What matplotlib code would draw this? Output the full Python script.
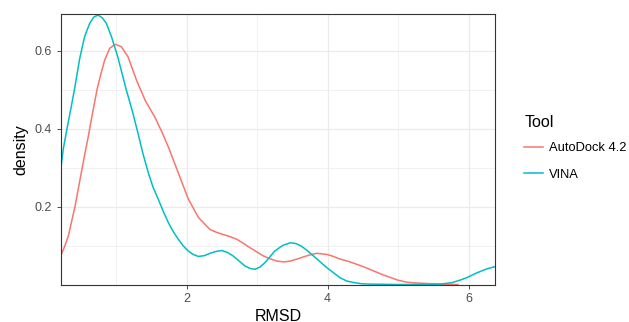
import matplotlib.pyplot as plt

plt.rcParams['font.family'] = ['Liberation Sans', 'DejaVu Sans']

# values (RMSD, density)
autodock_x = [0.21, 0.26, 0.318, 0.413, 0.484, 0.555, 0.60, 0.65, 0.726, 0.778, 0.835,
              0.906, 0.986, 1.07, 1.166, 1.284, 1.41, 1.55, 1.645, 1.74, 1.88, 2.02,
              2.165, 2.26, 2.33, 2.42, 2.52, 2.61, 2.71, 2.80, 2.90, 3.00, 3.09, 3.18,
              3.28, 3.38, 3.47, 3.56, 3.66, 3.75, 3.85, 3.99, 4.08, 4.18, 4.30, 4.41,
              4.53, 4.65, 4.77, 4.89, 5.00, 5.12, 5.24, 5.36, 5.48, 5.60, 5.85]
autodock_y = [0.073, 0.095, 0.124, 0.200, 0.269, 0.337, 0.378, 0.428, 0.500, 0.538, 0.576,
              0.606, 0.616, 0.610, 0.584, 0.525, 0.472, 0.428, 0.392, 0.352, 0.286, 0.220,
              0.172, 0.154, 0.141, 0.134, 0.128, 0.123, 0.116, 0.106, 0.094, 0.083, 0.073,
              0.066, 0.060, 0.058, 0.060, 0.065, 0.071, 0.076, 0.080, 0.077, 0.072, 0.065,
              0.059, 0.052, 0.044, 0.035, 0.026, 0.018, 0.011, 0.006, 0.004, 0.003, 0.002,
              0.001, 0.0]

vina_x = [0.21, 0.247, 0.30, 0.366, 0.41, 0.48, 0.55, 0.622, 0.68, 0.74, 0.80, 0.858,
          0.93, 1.02, 1.14, 1.23, 1.31, 1.38, 1.455, 1.52, 1.597, 1.67, 1.74, 1.81,
          1.88, 1.95, 2.02, 2.09, 2.165, 2.25, 2.33, 2.42, 2.50, 2.58, 2.66, 2.75,
          2.83, 2.90, 2.97, 3.04, 3.11, 3.18, 3.25, 3.36, 3.47, 3.55, 3.63, 3.71, 3.80,
          3.90, 3.99, 4.09, 4.18, 4.27, 4.37, 4.48, 4.60, 5.00, 5.40, 5.60, 5.69, 5.77,
          5.84, 5.91, 5.98, 6.05, 6.12, 6.19, 6.26, 6.32, 6.38]
vina_y = [0.295, 0.348, 0.400, 0.462, 0.505, 0.580, 0.636, 0.670, 0.686, 0.691, 0.684,
          0.670, 0.636, 0.584, 0.500, 0.443, 0.386, 0.334, 0.286, 0.250, 0.218, 0.186,
          0.158, 0.135, 0.116, 0.099, 0.086, 0.077, 0.072, 0.074, 0.080, 0.085, 0.087,
          0.082, 0.073, 0.059, 0.047, 0.041, 0.039, 0.045, 0.056, 0.071, 0.086, 0.100,
          0.107, 0.105, 0.098, 0.087, 0.073, 0.057, 0.043, 0.029, 0.017, 0.009, 0.005,
          0.002, 0.001, 0.0, 0.0, 0.001, 0.003, 0.005, 0.009, 0.013, 0.018, 0.024, 0.030,
          0.035, 0.040, 0.043, 0.046]

tools = ['AutoDock 4.2', 'VINA']
colors = ['#F8766D', '#00BFC4']

fig = plt.figure(figsize=(6.29, 3.22), dpi=100)
ax = fig.add_axes([60.7 / 629, (322 - 284.5) / 322, (495.3 - 60.7) / 629, (284.5 - 14.3) / 322])

ax.plot(autodock_x, autodock_y, color=colors[0], lw=1.1, label=tools[0])
ax.plot(vina_x, vina_y, color=colors[1], lw=1.1, label=tools[1])

ax.set_xlim(0.21, 6.38)
ax.set_ylim(0.0, 0.693)
ax.set_xticks([2, 4, 6])
ax.set_yticks([0.2, 0.4, 0.6])
ax.set_xticks([1, 3, 5], minor=True)
ax.set_yticks([0.1, 0.3, 0.5], minor=True)
ax.grid(True, which='major', color='#EBEBEB', lw=0.9)
ax.grid(True, which='minor', color='#EBEBEB', lw=0.5)
ax.set_axisbelow(True)
ax.tick_params(which='major', length=3, width=0.6, color='#333333',
               labelcolor='#4D4D4D', labelsize=9, pad=3)
ax.tick_params(which='minor', length=0)
for s in ax.spines.values():
    s.set_color('#333333')
    s.set_linewidth(0.8)

ax.set_xlabel('RMSD', fontsize=11.5, labelpad=3)
ax.set_ylabel('density', fontsize=11.5, labelpad=5)

leg = ax.legend(title='Tool', loc='upper left', bbox_to_anchor=(1.04, 0.672),
                frameon=False, fontsize=9.3, title_fontsize=11.5,
                handlelength=1.45, handletextpad=0.45, labelspacing=1.15)
leg._legend_box.align = 'left'
leg._legend_box.sep = 9

fig.savefig('out.png', dpi=100)
